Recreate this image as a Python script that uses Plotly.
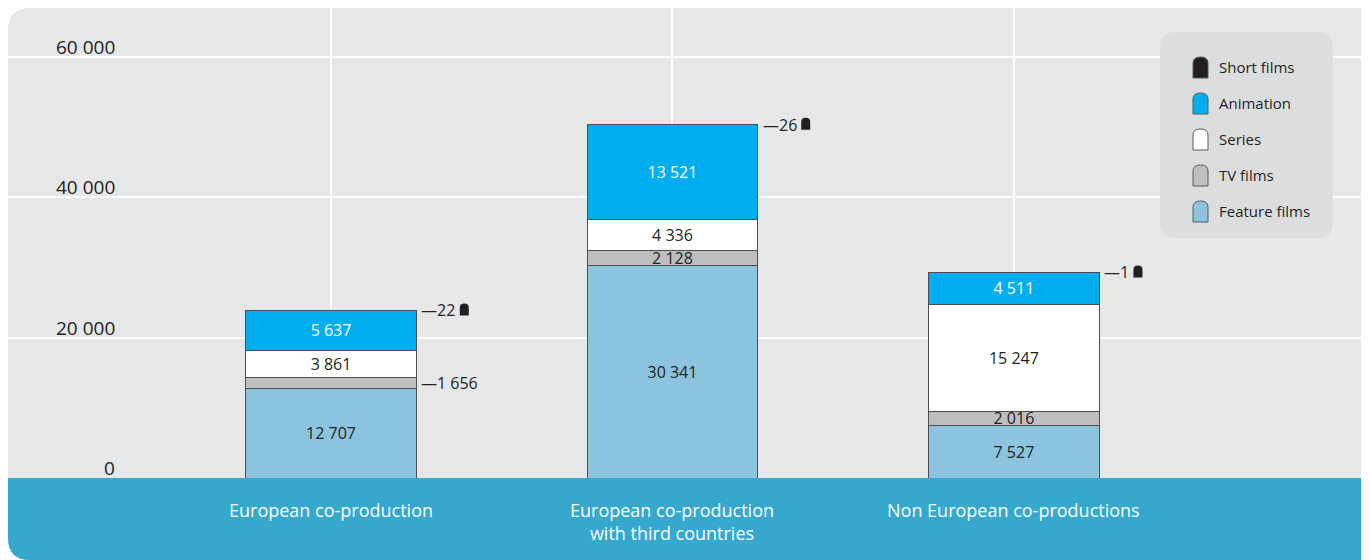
import plotly.graph_objects as go

categories = ["European co-production", "European co-production<br>with third countries", "Non European co-productions"]
feature_films = [12707, 30341, 7527]
tv_films = [1656, 2128, 2016]
series = [3861, 4336, 15247]
animation = [5637, 13521, 4511]
short_films = [22, 26, 1]

y_ticks = [0, 20000, 40000, 60000]

colors = {
    "Feature films": "#8cc4e0",
    "TV films": "#bcbec0",
    "Series": "#ffffff",
    "Animation": "#00adef",
    "Short films": "#231f20",
}
text_colors = {"Feature films": "#231f20", "TV films": "#231f20", "Series": "#231f20", "Animation": "#ffffff"}

FONT = "Open Sans"
# the page body adds an 8px margin, so the figure is 8px smaller than the window
W, H = 1361, 552
L, T, B = 0, 0, 82


def fmt(v):
    return f"{v:,}".replace(",", " ")


# screenshot pixel -> paper coords helpers (decoration only)
def px(x):
    return (x - 8 - L) / (W - L)


def py(y):
    return (H - B - (y - 8)) / (H - B - T)


series_list = [
    ("Feature films", feature_films),
    ("TV films", tv_films),
    ("Series", series),
    ("Animation", animation),
    ("Short films", short_films),
]

fig = go.Figure()
for name, vals in series_list:
    if name == "Short films":
        txt = None
    elif name == "TV films":
        txt = [fmt(v) if v >= 2000 else "" for v in vals]
    else:
        txt = [fmt(v) for v in vals]
    fig.add_trace(go.Bar(
        x=list(range(len(categories))), y=vals, name=name, width=0.5,
        marker=dict(color=colors[name], line=dict(color="#4d4d4f", width=1)),
        text=txt, textposition="inside" if txt else "none", insidetextanchor="middle",
        textfont=dict(family=FONT, size=16, color=text_colors.get(name, "#231f20")),
        hoverinfo="skip", showlegend=False,
    ))

annotations = []
shapes = []
lab_font = dict(family=FONT, size=16, color="#231f20")
# small values shown outside the bars
for i in range(len(categories)):
    total = feature_films[i] + tv_films[i] + series[i] + animation[i] + short_films[i]
    s = fmt(short_films[i])
    annotations.append(dict(x=i + 0.25, y=total, xref="x", yref="y", text="\u2014" + s,
                            showarrow=False, xanchor="left", yanchor="middle", xshift=3, font=lab_font))
    # little short-film icon after the label
    ox = 4 + 16 + 9.2 * len(s.replace(" ", "")) + 5
    shapes.append(dict(type="path", xref="x", yref="y", xsizemode="pixel", ysizemode="pixel",
                       xanchor=i + 0.25, yanchor=total, fillcolor="#231f20", line=dict(width=0), layer="above",
                       path=f"M {ox},-5 L {ox},3 Q {ox},7 {ox + 4.5},7 Q {ox + 9},7 {ox + 9},3 L {ox + 9},-5 Z"))
    if tv_films[i] < 2000:
        annotations.append(dict(x=i + 0.25, y=feature_films[i] + tv_films[i] / 2, xref="x", yref="y",
                                text="\u2014" + fmt(tv_films[i]), showarrow=False, xanchor="left",
                                yanchor="middle", xshift=3, font=lab_font))

# y tick labels sit just above the gridlines
for v in y_ticks:
    annotations.append(dict(x=px(117), y=v, xref="paper", yref="y", text=fmt(v), showarrow=False,
                            xanchor="right", yanchor="bottom", yshift=-5,
                            font=dict(family=FONT, size=19, color="#231f20")))

# category labels in the blue band
for i, cat in enumerate(categories):
    annotations.append(dict(x=i, y=py(496), xref="x", yref="paper", text=cat, showarrow=False,
                            xanchor="center", yanchor="top", align="center",
                            font=dict(family=FONT, size=18, color="#ffffff")))

r = 22
shapes.append(dict(type="path", xref="paper", yref="paper", layer="below", fillcolor="#e6e7e8", line=dict(width=0),
                   path=f"M {px(8)},{py(478)} L {px(8)},{py(8 + r)} Q {px(8)},{py(8)} {px(8 + r)},{py(8)} "
                        f"L {px(1369)},{py(8)} L {px(1369)},{py(478)} Z"))
shapes.append(dict(type="path", xref="paper", yref="paper", layer="below", fillcolor="#36a7cd", line=dict(width=0),
                   path=f"M {px(8)},{py(478)} L {px(8)},{py(560 - r)} Q {px(8)},{py(560)} {px(8 + r)},{py(560)} "
                        f"L {px(1369)},{py(560)} L {px(1369)},{py(478)} Z"))

# legend box
lx0, lx1, ly0, ly1, lr = 1160, 1333, 32, 238, 16
shapes.append(dict(type="path", xref="paper", yref="paper", layer="above", fillcolor="#dcdddf", line=dict(width=0),
                   path=f"M {px(lx0 + lr)},{py(ly0)} L {px(lx1 - lr)},{py(ly0)} Q {px(lx1)},{py(ly0)} {px(lx1)},{py(ly0 + lr)} "
                        f"L {px(lx1)},{py(ly1 - lr)} Q {px(lx1)},{py(ly1)} {px(lx1 - lr)},{py(ly1)} "
                        f"L {px(lx0 + lr)},{py(ly1)} Q {px(lx0)},{py(ly1)} {px(lx0)},{py(ly1 - lr)} "
                        f"L {px(lx0)},{py(ly0 + lr)} Q {px(lx0)},{py(ly0)} {px(lx0 + lr)},{py(ly0)} Z"))
legend_order = ["Short films", "Animation", "Series", "TV films", "Feature films"]
for j, name in enumerate(legend_order):
    cy = 67 + j * 36
    ix0, ix1, iy0, iy1 = 1193, 1208, cy - 10, cy + 11
    mid = (ix0 + ix1) / 2
    shapes.append(dict(type="path", xref="paper", yref="paper", layer="above", fillcolor=colors[name],
                       line=dict(color="#58595b", width=1),
                       path=f"M {px(ix0)},{py(iy1)} L {px(ix0)},{py(iy0 + 6)} Q {px(ix0)},{py(iy0)} {px(mid)},{py(iy0)} "
                            f"Q {px(ix1)},{py(iy0)} {px(ix1)},{py(iy0 + 6)} L {px(ix1)},{py(iy1)} Z"))
    annotations.append(dict(x=px(1217), y=py(cy), xref="paper", yref="paper", text=name, showarrow=False,
                            xanchor="left", yanchor="middle", font=dict(family=FONT, size=15, color="#231f20")))

fig.update_layout(
    barmode="stack",
    width=W, height=H,
    margin=dict(l=L, r=0, t=T, b=B),
    paper_bgcolor="#ffffff",
    plot_bgcolor="rgba(0,0,0,0)",
    xaxis=dict(range=[-0.946, 3.04], tickvals=list(range(len(categories))), showticklabels=False,
               showgrid=True, gridcolor="#ffffff", gridwidth=1.5, zeroline=False, showline=False),
    yaxis=dict(range=[0, 60000 * 470 / 421], tickvals=y_ticks, showticklabels=False, showgrid=True,
               gridcolor="#ffffff", gridwidth=1.5, zeroline=False),
    shapes=shapes,
    annotations=annotations,
    uniformtext=dict(minsize=16, mode="show"),
    showlegend=False,
)

fig.write_html("out.html")
